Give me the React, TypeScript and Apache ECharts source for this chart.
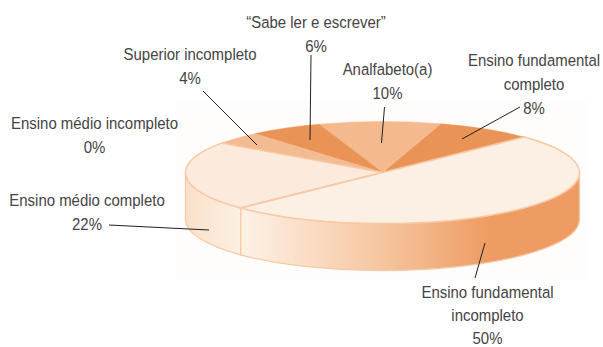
import React, { useEffect, useRef } from "react";
import * as echarts from "echarts";

const categories = [
  "Ensino fundamental\ncompleto",
  "Analfabeto(a)",
  "“Sabe ler e escrever”",
  "Superior incompleto",
  "Ensino médio incompleto",
  "Ensino médio completo",
  "Ensino fundamental\nincompleto",
];
const values = [8, 10, 6, 4, 0, 22, 50];

const topColors = ["#ea9357", "#f4ba8e", "#ea9357", "#f3bb91", "#fcebdc", "#fcebdc", "#fcefe3"];
const rimColor = "#f8c8a2";
const START = 44;
const CX = 382.5, CY = 172.5, RX = 197, RY = 51, DEPTH = 47;

const labelPos: [number, number, number][] = [
  [534, 60, 24], [387.5, 69, 24], [316, 22, 24.5], [190, 54, 24], [94.5, 123, 24], [87, 200, 24], [487.5, 292.5, 23],
];
const leaders: number[][] = [
  [520, 107, 462, 139],
  [384.5, 107, 381.5, 143],
  [311, 55, 310, 140],
  [203, 91, 257, 145],
  [109, 225, 209, 230],
  [485, 243, 475, 278],
];

const rad = (d: number) => (d * Math.PI) / 180;
const px = (a: number) => CX + RX * Math.cos(rad(a));
const py = (a: number) => CY - RY * Math.sin(rad(a));

function spans() {
  let a = START;
  const total = values.reduce((s, v) => s + v, 0);
  return values.map((v) => {
    const s = a;
    a += (v / total) * 360;
    return [s, a];
  });
}

function sideGradient(i: number) {
  if (i === 5) {
    return new echarts.graphic.LinearGradient(186, 0, 246, 0, [
      { offset: 0, color: "#fbe0ca" },
      { offset: 1, color: "#fdf1e7" },
    ], true);
  }
  return new echarts.graphic.LinearGradient(246, 0, 490, 0, [
    { offset: 0, color: "#fdf0e5" },
    { offset: 0.55, color: "#f6c6a0" },
    { offset: 1, color: "#ee9c63" },
  ], true);
}

export default function App() {
  const ref = useRef<HTMLDivElement>(null);
  useEffect(() => {
    document.body.style.margin = "0";
    const chart = echarts.init(ref.current!, null, { renderer: "svg" });
    const sp = spans();
    const font = { fontFamily: "'Liberation Sans', sans-serif", fontSize: 17 };
    const data = values.map((v, i) => ({ name: categories[i].replace("\n", " "), value: [i, v] }));
    const labels = categories.flatMap((c, i) =>
      [...c.split("\n"), `${values[i]}%`].map((line, k) => ({
        type: "text", z: 20, x: labelPos[i][0], y: labelPos[i][1] + k * labelPos[i][2], scaleX: 0.88,
        style: { text: line, textAlign: "center", textVerticalAlign: "middle", fill: "#444444", ...font },
      }))
    );
    chart.setOption({
      animation: false,
      backgroundColor: "#ffffff",
      graphic: [
        { type: "rect", z: -10, silent: true, shape: { x: 176, y: 101, width: 412, height: 180 }, style: { fill: "#fefdfb" } },
        ...labels,
        ...leaders.map((l) => ({
          type: "line", z: 30, shape: { x1: l[0], y1: l[1], x2: l[2], y2: l[3] },
          style: { stroke: "#222222", lineWidth: 1 },
        })),
      ],
      series: [
        {
          type: "custom", coordinateSystem: "none", z: 2, data, silent: true,
          renderItem: (_: any, api: any) => {
            const i = api.value(0);
            const [a, b] = sp[i];
            const lo = Math.max(a, 180), hi = Math.min(b, 360);
            if (hi <= lo) return { type: "group", children: [] };
            const d = `M${px(lo)} ${py(lo)}A${RX} ${RY} 0 0 0 ${px(hi)} ${py(hi)}L${px(hi)} ${py(hi) + DEPTH}A${RX} ${RY} 0 0 1 ${px(lo)} ${py(lo) + DEPTH}Z`;
            return {
              type: "path", shape: { pathData: d },
              style: { fill: sideGradient(i), stroke: i === 5 ? rimColor : "#f6c9a6", lineWidth: 1.2 },
            };
          },
        },
        {
          type: "custom", coordinateSystem: "none", z: 3, data, silent: true,
          renderItem: (_: any, api: any) => {
            const i = api.value(0);
            const [a, b] = sp[i];
            if (b - a <= 0) return { type: "group", children: [] };
            const large = b - a > 180 ? 1 : 0;
            const d = `M${CX} ${CY}L${px(a)} ${py(a)}A${RX} ${RY} 0 ${large} 0 ${px(b)} ${py(b)}Z`;
            const pale = i >= 5;
            return {
              type: "path", shape: { pathData: d },
              style: { fill: topColors[i], stroke: pale ? rimColor : topColors[i], lineWidth: pale ? 1.5 : 0.5 },
            };
          },
        },
      ],
    });
    return () => chart.dispose();
  }, []);
  return <div ref={ref} style={{ width: 603, height: 347 }} />;
}
